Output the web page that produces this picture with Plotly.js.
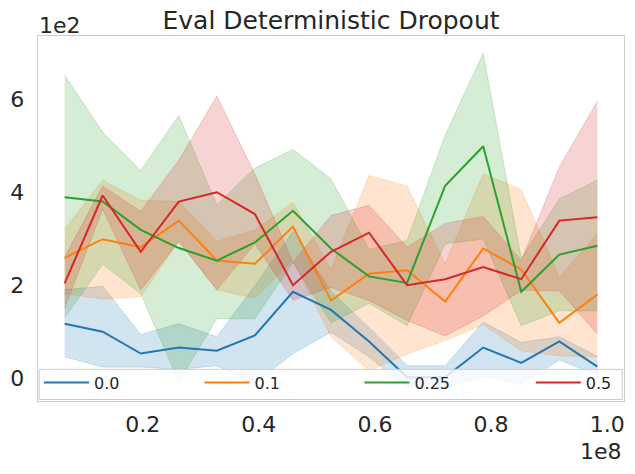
<!DOCTYPE html>
<html>
<head>
<meta charset="utf-8">
<script src="https://cdn.plot.ly/plotly-3.0.1.min.js"></script>
<style>html,body{margin:0;padding:0;background:#fff;}#chart{width:635px;height:474px;}</style>
</head>
<body>
<div id="chart"></div>
<script>
// Environment steps
const steps = [6553600, 13107200, 19660800, 26214400, 32768000, 39321600, 45875200, 52428800,
               58982400, 65536000, 72089600, 78643200, 85196800, 91750400, 98304000];

// Dropout 0.0
const d00Mean = [118, 101, 54, 67, 60, 93, 187, 148, 80, 3, 3, 67, 34, 80, 26];
const d00High = [191, 199, 95, 118, 90, 200, 317, 188, 110, 28, 28, 122, 78, 90, 48];
const d00Low  = [47, 25, 25, 20, 28, -10, 54, 100, 47, -20, -20, 5, -12, 40, 8];

// Dropout 0.1
const d01Mean = [260, 300, 283, 340, 254, 247, 327, 168, 226, 233, 166, 280, 235, 120, 181];
const d01High = [322, 427, 384, 381, 295, 320, 379, 235, 437, 414, 247, 441, 407, 218, 312];
const d01Low  = [183, 171, 176, 296, 191, 173, 255, 90, 17, 53, 82, 116, 60, 49, 47];

// Dropout 0.25
const d025Mean = [390, 381, 320, 281, 254, 293, 361, 280, 220, 206, 415, 500, 187, 267, 286];
const d025High = [653, 530, 448, 566, 374, 453, 493, 430, 278, 297, 524, 700, 258, 387, 427];
const d025Low  = [131, 246, 183, -7, 129, 129, 250, 120, 162, 114, 290, 300, 114, 146, 146];

// Dropout 0.5
const d05Mean = [205, 394, 273, 381, 401, 354, 201, 273, 314, 201, 214, 240, 214, 340, 347];
const d05High = [262, 414, 360, 470, 608, 440, 250, 351, 373, 283, 334, 349, 254, 455, 597];
const d05Low  = [152, 365, 191, 295, 191, 290, 169, 196, 168, 125, 92, 135, 190, 189, 96];

const seriesNames = ['0.0', '0.1', '0.25', '0.5'];
const xTickVals = [20000000, 40000000, 60000000, 80000000, 100000000];
const xTickText = ['0.2', '0.4', '0.6', '0.8', '1.0'];
const yTickVals = [0, 200, 400, 600];
const yTickText = ['0', '2', '4', '6'];

const colors = ['#1f77b4', '#ff7f0e', '#2ca02c', '#d62728'];
const fills = ['rgba(31,119,180,0.2)', 'rgba(255,127,14,0.2)', 'rgba(44,160,44,0.2)', 'rgba(214,39,40,0.2)'];

const means = [d00Mean, d01Mean, d025Mean, d05Mean];
const highs = [d00High, d01High, d025High, d05High];
const lows = [d00Low, d01Low, d025Low, d05Low];

const legendIds = ['legend', 'legend2', 'legend3', 'legend4'];
const legendX = [0.0017, 0.2756, 0.5485, 0.8410];

const traces = [];
for (let i = 0; i < 4; i++) {
  traces.push({x: steps, y: highs[i], type: 'scatter', mode: 'lines',
    line: {color: fills[i], width: 1}, showlegend: false, hoverinfo: 'skip'});
  traces.push({x: steps, y: lows[i], type: 'scatter', mode: 'lines', fill: 'tonexty',
    fillcolor: fills[i], line: {color: fills[i], width: 1}, showlegend: false, hoverinfo: 'skip'});
}
for (let i = 0; i < 4; i++) {
  traces.push({x: steps, y: means[i], type: 'scatter', mode: 'lines', name: seriesNames[i],
    line: {color: colors[i], width: 2}, legend: legendIds[i]});
}

const fontFam = 'DejaVu Sans, sans-serif';
const layout = {
  width: 635, height: 474,
  margin: {l: 38, r: 11, t: 36, b: 73},
  paper_bgcolor: '#ffffff', plot_bgcolor: '#ffffff',
  font: {family: fontFam, color: '#262626', size: 22},
  title: {text: 'Eval Deterministic Dropout', font: {family: fontFam, size: 25, color: '#262626'},
    x: 0.5213, xanchor: 'center', yref: 'container', y: 1 - 20 / 474, yanchor: 'middle'},
  xaxis: {range: [1966080, 102891520], tickvals: xTickVals, ticktext: xTickText,
    showgrid: false, zeroline: false, showline: true, mirror: true, linecolor: '#cccccc', linewidth: 1.25,
    ticks: '', ticklabelstandoff: 3, tickfont: {size: 22, color: '#262626'}},
  yaxis: {range: [-48, 737], tickvals: yTickVals, ticktext: yTickText,
    showgrid: false, zeroline: false, showline: true, mirror: true, linecolor: '#cccccc', linewidth: 1.25,
    ticks: '', ticklabelstandoff: 8, tickfont: {size: 22, color: '#262626'}},
  shapes: [
    {type: 'rect', xref: 'paper', yref: 'paper', x0: 0.002, x1: 0.997, y0: 0.004, y1: 0.0868,
      fillcolor: 'rgba(255,255,255,0.8)', line: {color: '#cccccc', width: 1}, layer: 'above'}
  ],
  annotations: [
    {text: '1e2', xref: 'paper', yref: 'paper', x: 0, y: 1, xanchor: 'left', yanchor: 'bottom',
      showarrow: false, font: {family: fontFam, size: 22, color: '#262626'}, xshift: -1, yshift: -4},
    {text: '1e8', xref: 'paper', yref: 'paper', x: 1, y: 0, xanchor: 'right', yanchor: 'top',
      showarrow: false, font: {family: fontFam, size: 22, color: '#262626'}, xshift: 0, yshift: -36}
  ],
  hovermode: false
};
for (let i = 0; i < 4; i++) {
  layout[legendIds[i]] = {orientation: 'h', x: legendX[i], y: 0.0501, xanchor: 'left', yanchor: 'middle',
    bgcolor: 'rgba(0,0,0,0)', borderwidth: 0, itemwidth: 45,
    font: {family: fontFam, size: 16, color: '#262626'}};
}

Plotly.newPlot('chart', traces, layout, {displayModeBar: false, staticPlot: true});
</script>
</body>
</html>
